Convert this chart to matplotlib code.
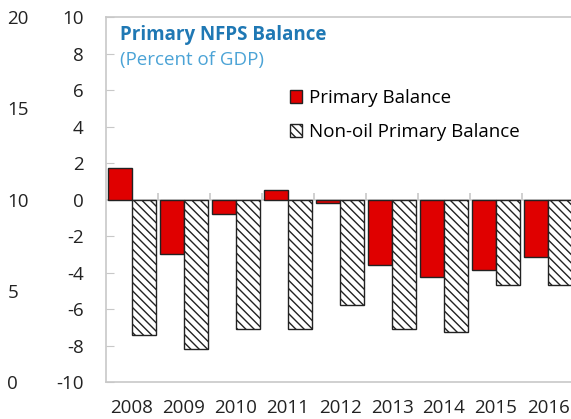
import matplotlib
matplotlib.use("Agg")
import matplotlib.pyplot as plt
import numpy as np

plt.rcParams['font.family'] = ['Open Sans', 'DejaVu Sans']
plt.rcParams['hatch.linewidth'] = 1.0
plt.rcParams['axes.unicode_minus'] = False

years = ['2008', '2009', '2010', '2011', '2012', '2013', '2014', '2015', '2016']
primary = [1.7, -3.0, -0.77, 0.5, -0.18, -3.6, -4.22, -3.84, -3.16]
nonoil = [-7.44, -8.2, -7.07, -7.12, -5.77, -7.12, -7.25, -4.7, -4.7]
left_ticks = [-10, -8, -6, -4, -2, 0, 2, 4, 6, 8, 10]
outer_ticks = [0, 5, 10, 15, 20]

W, H = 571, 419
fig = plt.figure(figsize=(W / 100, H / 100), dpi=100)
x0, x1, y0, y1 = 106, 574, 17, 382
ax = fig.add_axes([x0 / W, 1 - y1 / H, (x1 - x0) / W, (y1 - y0) / H])

x = np.arange(len(years))
bw = 0.46
ax.bar(x - bw / 2, primary, width=bw, color='#E00000', edgecolor='#222222',
       linewidth=1.0, label='Primary Balance', zorder=3)
ax.bar(x + bw / 2, nonoil, width=bw, color='white', edgecolor='#222222',
       hatch='\\\\\\\\', linewidth=1.0, label='Non-oil Primary Balance', zorder=3)

ax.set_xlim(-0.5, len(years) - 0.5)
ax.set_ylim(-10, 10)
ax.set_yticks(left_ticks)
ax.set_xticks(x)
ax.set_xticklabels(years)
gray = '#c8c8c8'
for s in ['left', 'bottom', 'top']:
    ax.spines[s].set_color(gray)
    ax.spines[s].set_linewidth(1.2)
ax.spines['right'].set_visible(False)
ax.tick_params(axis='x', length=0, labelsize=13.5, pad=12, colors='#222222')
ax.tick_params(axis='y', direction='in', length=6, color=gray, labelsize=13.5,
               pad=16, labelcolor='#222222')

# zero line with category separators
ax.axhline(0, color=gray, linewidth=1.2, zorder=2)
bounds = np.arange(len(years) + 1) - 0.5
ax.vlines(bounds[1:], 0, 0.35, color=gray, linewidth=1.2, zorder=2)

# outer axis
ax2 = ax.twinx()
ax2.set_ylim(0, 20)
ax2.set_yticks(outer_ticks)
ax2.yaxis.set_ticks_position('left')
ax2.yaxis.set_label_position('left')
for s in ax2.spines.values():
    s.set_visible(False)
ax2.tick_params(axis='y', length=0, labelsize=13.5, pad=71, labelcolor='#222222')
for lab in ax2.get_yticklabels():
    lab.set_horizontalalignment('left')

ax.text(120 / W, 1 - 35 / H, 'Primary NFPS Balance', transform=fig.transFigure,
        fontsize=13.5, fontweight='bold', color='#1F78B4', va='center', ha='left')
ax.text(120 / W, 1 - 60 / H, '(Percent of GDP)', transform=fig.transFigure,
        fontsize=13.5, color='#4BA3D6', va='center', ha='left')

leg = ax.legend(loc='upper left', bbox_to_anchor=((290 - x0) / (x1 - x0), (y1 - 89) / (y1 - y0)),
                frameon=False, fontsize=13.5, handlelength=0.65, handleheight=0.65,
                handletextpad=0.35, labelspacing=0.85, borderaxespad=0, borderpad=0)

fig.savefig('out.png', dpi=100)
